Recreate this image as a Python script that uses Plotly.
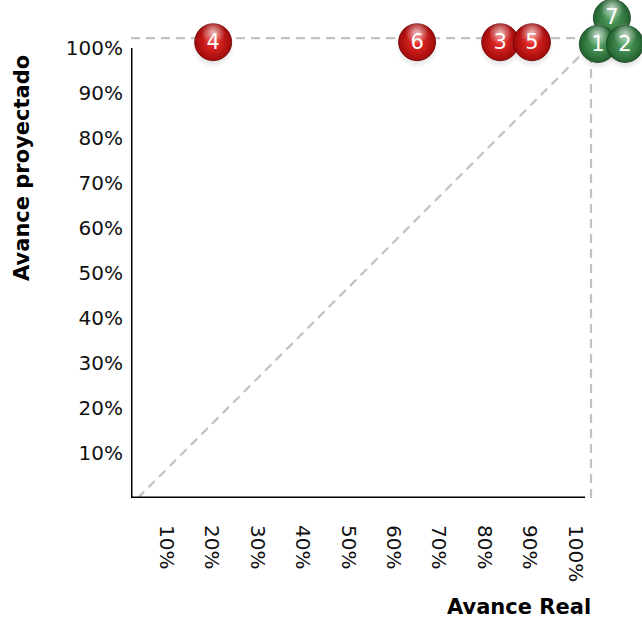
import plotly.graph_objects as go

# Project bubbles: real progress (x) vs projected progress (y), in percent
proyecto = ["1", "2", "3", "4", "5", "6", "7"]
avance_real = [102.8, 108.8, 81.3, 18.1, 88.3, 63.0, 105.9]
avance_proyectado = [100.9, 100.9, 101.3, 101.3, 101.3, 101.3, 106.7]
estado = ["ok", "ok", "atraso", "atraso", "atraso", "atraso", "ok"]

tick_vals = [10, 20, 30, 40, 50, 60, 70, 80, 90, 100]
tick_text = ["10%", "20%", "30%", "40%", "50%", "60%", "70%", "80%", "90%", "100%"]

# extent of the dashed frame (a little past 100 %)
X_FRAME, Y_FRAME = 101.3, 102.2

FONT = "Verdana, DejaVu Sans, sans-serif"
PALETTE = {
    "atraso": dict(edge="#a00a0a", center="#f0302c", rim="#6a0000"),
    "ok": dict(edge="#21602e", center="#5aaa69", rim="#163f1e"),
}

fig = go.Figure()

# reference guides: top and right dashed borders and the diagonal
dash = dict(color="#c2c2c2", width=2.2, dash="9px,6px")
fig.add_shape(type="line", x0=0, x1=X_FRAME, y0=Y_FRAME, y1=Y_FRAME, line=dash, layer="below")
fig.add_shape(type="line", x0=X_FRAME, x1=X_FRAME, y0=0, y1=Y_FRAME, line=dash, layer="below")
fig.add_shape(type="line", x0=1.5, x1=X_FRAME, y0=0, y1=100.7, line=dash, layer="below")

# solid axis lines from 0 to 100 %
fig.add_shape(type="line", x0=0, x1=0, y0=0, y1=100, line=dict(color="black", width=3))
fig.add_shape(type="line", x0=0, x1=100, y0=0, y1=0, line=dict(color="black", width=3))

order = sorted(range(len(proyecto)), key=lambda i: (-avance_proyectado[i], avance_real[i]))
for i in order:
    x, y, c = avance_real[i], avance_proyectado[i], PALETTE[estado[i]]
    # soft drop shadow
    fig.add_trace(go.Scatter(
        x=[x], y=[y - 1.0], mode="markers", cliponaxis=False, hoverinfo="skip",
        marker=dict(size=43, color="rgba(0,0,0,0)",
                    gradient=dict(type="radial", color="rgba(0,0,0,0.32)"),
                    line=dict(width=0))))
    # sphere body
    fig.add_trace(go.Scatter(
        x=[x], y=[y], mode="markers", cliponaxis=False, hoverinfo="skip",
        marker=dict(size=37, color=c["edge"],
                    gradient=dict(type="radial", color=c["center"]),
                    line=dict(width=0.8, color=c["rim"]))))
    # glossy highlight near the top
    fig.add_trace(go.Scatter(
        x=[x], y=[y + 2.1], mode="markers", cliponaxis=False, hoverinfo="skip",
        marker=dict(size=24, color="rgba(255,255,255,0)",
                    gradient=dict(type="radial", color="rgba(255,255,255,0.7)"),
                    line=dict(width=0))))
    # project number
    fig.add_trace(go.Scatter(
        x=[x], y=[y - 0.3], mode="text", text=[proyecto[i]], cliponaxis=False,
        hoverinfo="skip", textposition="middle center",
        textfont=dict(family=FONT, size=21, color="white")))

axis_common = dict(showgrid=False, zeroline=False, showline=False, ticks="",
                   tickvals=tick_vals, ticktext=tick_text,
                   tickfont=dict(family=FONT, size=20, color="#111111"))

fig.update_layout(
    width=642, height=618,
    margin=dict(l=131, r=0, t=0, b=120, pad=0),
    paper_bgcolor="white", plot_bgcolor="white",
    showlegend=False,
    xaxis=dict(range=[0, 112.53], tickangle=90, ticklabelshift=-10,
               ticklabelstandoff=26, **axis_common),
    yaxis=dict(range=[0, 110.67], ticklabelstandoff=7, **axis_common),
    annotations=[
        dict(text="<b>Avance proyectado</b>", xref="paper", yref="paper",
             x=-0.2133, y=0.6627, xanchor="center", yanchor="middle",
             textangle=-90, showarrow=False,
             font=dict(family=FONT, size=21, color="black")),
        dict(text="<b>Avance Real</b>", xref="paper", yref="paper",
             x=0.905, y=-0.2189, xanchor="right", yanchor="middle",
             showarrow=False, font=dict(family=FONT, size=21, color="black")),
    ],
)

fig.write_html("out.html")
